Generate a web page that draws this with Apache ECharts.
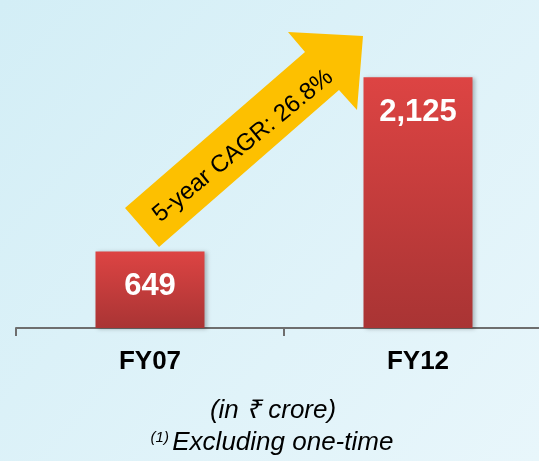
<!DOCTYPE html>
<html>
<head>
<meta charset="utf-8">
<script src="https://cdn.jsdelivr.net/npm/echarts@6/dist/echarts.min.js"></script>
<style>
  html, body { margin: 0; padding: 0; }
  #chart { width: 539px; height: 461px; }
</style>
</head>
<body>
<div id="chart"></div>
<script>
// Profit figures, in ₹ crore
const years = ['FY07', 'FY12'];
const profit = [649, 2125];
const cagrText = '5-year CAGR: 26.8%';

const chart = echarts.init(document.getElementById('chart'), null, { renderer: 'canvas' });

const barFill = new echarts.graphic.LinearGradient(0, 0, 0, 1, [
  { offset: 0, color: '#dd4443' },
  { offset: 1, color: '#a93434' }
]);

const FONT = '"Liberation Sans", Arial, sans-serif';

chart.setOption({
  animation: false,
  backgroundColor: new echarts.graphic.LinearGradient(0, 0, 1, 1, [
    { offset: 0, color: '#d3eef6' },
    { offset: 1, color: '#e8f6fb' }
  ]),
  // the category band continues past the right edge of the canvas
  grid: { left: 16, top: 33, width: 536, height: 295, outerBoundsMode: 'none', containLabel: false },
  xAxis: {
    type: 'category',
    data: years,
    axisLine: { lineStyle: { color: '#6e6e6e', width: 2 } },
    axisTick: { show: true, length: 8, lineStyle: { color: '#6e6e6e', width: 2 } },
    axisLabel: {
      margin: 21,
      color: '#000',
      fontFamily: FONT,
      fontWeight: 'bold',
      fontSize: 26
    }
  },
  yAxis: {
    type: 'value',
    min: 0,
    max: 2500,
    show: false,
    splitLine: { show: false }
  },
  series: [{
    type: 'bar',
    data: profit,
    barWidth: 109,
    itemStyle: {
      color: barFill,
      shadowColor: 'rgba(0,0,0,0.25)',
      shadowBlur: 4,
      shadowOffsetX: 2,
      shadowOffsetY: 1
    },
    label: {
      show: true,
      position: ['50%', 35],
      align: 'center',
      verticalAlign: 'middle',
      color: '#fff',
      fontFamily: FONT,
      fontWeight: 'bold',
      fontSize: 31,
      formatter: p => p.value.toLocaleString('en-US')
    },
    z: 3
  }],
  graphic: [
    {
      type: 'polygon',
      z: 1,
      shape: {
        points: [[125, 208], [305, 52], [288, 32], [363, 36], [357, 110], [339, 90], [159, 247]]
      },
      style: { fill: '#fdc000' }
    },
    {
      type: 'text',
      z: 2,
      x: 243,
      y: 146,
      rotation: 39.5 * Math.PI / 180,
      style: {
        text: cagrText,
        fill: '#000',
        font: '24px ' + FONT,
        align: 'center',
        verticalAlign: 'middle'
      }
    },
    {
      type: 'text',
      x: 273,
      y: 411,
      style: {
        text: '(in ₹ crore)',
        fill: '#000',
        font: 'italic 26px ' + FONT,
        align: 'center',
        verticalAlign: 'middle'
      }
    },
    {
      type: 'text',
      x: 272,
      y: 443,
      style: {
        text: '{sup|(1)} {main|Excluding one-time}',
        align: 'center',
        verticalAlign: 'middle',
        rich: {
          sup: { font: 'italic 15px ' + FONT, fill: '#000', verticalAlign: 'top', padding: [0, 0, 10, 0] },
          main: { font: 'italic 26px ' + FONT, fill: '#000' }
        }
      }
    }
  ]
});
</script>
</body>
</html>
